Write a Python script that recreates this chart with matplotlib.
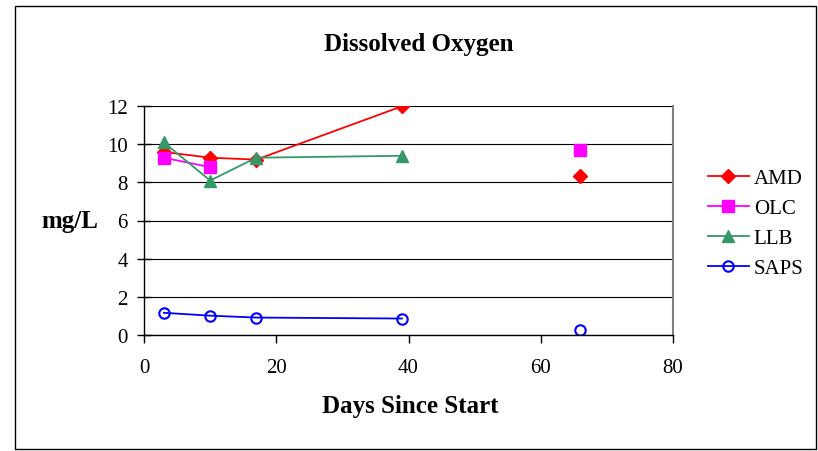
import numpy as np
import matplotlib
matplotlib.use("Agg")
import matplotlib.pyplot as plt
from matplotlib.patches import Rectangle

# sampling days (the 52-day gap has no readings, so lines break there)
days = [3, 10, 17, 39, 52, 66]
amd = [9.6, 9.3, 9.2, 12.0, np.nan, 8.35]
olc = [9.3, 8.8, np.nan, np.nan, np.nan, 9.7]
llb = [10.1, 8.1, 9.3, 9.4, np.nan, np.nan]
saps = [1.15, 1.0, 0.9, 0.85, np.nan, 0.25]

plt.rcParams['font.family'] = ['Liberation Serif', 'DejaVu Serif']

fig = plt.figure(figsize=(8.18, 4.52), dpi=100)
ax = fig.add_axes([144 / 818, 1 - 335.7 / 452, 529 / 818, 228.4 / 452])

# outer chart frame
fig.patches.append(Rectangle((15 / 818, 1 - 450 / 452), 801 / 818, 443 / 452,
                             transform=fig.transFigure, fill=False,
                             edgecolor='black', linewidth=1.0))

ax.plot(days, amd, color='#FF0000', marker='D', markersize=7, linewidth=1.3, label='AMD')
ax.plot(days, olc, color='#FF00FF', marker='s', markersize=8, linewidth=1.3, label='OLC')
ax.plot(days, llb, color='#339966', marker='^', markersize=9, linewidth=1.3, label='LLB')
ax.plot(days, saps, color='#0000FF', marker='o', markersize=7.5, markerfacecolor='none',
        markeredgewidth=1.5, linewidth=1.3, label='SAPS')

ax.set_xlim(0, 80)
ax.set_ylim(0, 12)
ax.set_xticks([0, 20, 40, 60, 80])
ax.set_yticks([0, 2, 4, 6, 8, 10, 12])
ax.grid(axis='y', color='black', linewidth=0.8)
ax.set_axisbelow(True)

ax.spines['top'].set_visible(False)
ax.spines['right'].set_color('#808080')
ax.spines['right'].set_linewidth(1.5)
ax.spines['left'].set_linewidth(1.0)
ax.spines['bottom'].set_linewidth(1.0)
ax.tick_params(axis='x', direction='out', length=6, width=1, labelsize=15, pad=11)
ax.tick_params(axis='y', direction='inout', length=9.5, width=1, labelsize=15, pad=7)

fig.text(410 / 818, 1 - 407 / 452, 'Days Since Start', fontsize=18, fontweight='bold',
         ha='center', va='center')
fig.text(70 / 818, 1 - 222 / 452, 'mg/L', fontsize=18, fontweight='bold',
         ha='center', va='center')
fig.text(419 / 818, 1 - 44 / 452, 'Dissolved Oxygen', fontsize=18, fontweight='bold',
         ha='center', va='center')

leg = fig.legend(loc='center left', bbox_to_anchor=(708 / 818, 1 - 224 / 452),
                 frameon=False, fontsize=15, handlelength=1.95, handletextpad=0.25,
                 labelspacing=0.5, borderaxespad=0, borderpad=0)

fig.savefig('out.png', dpi=100)
